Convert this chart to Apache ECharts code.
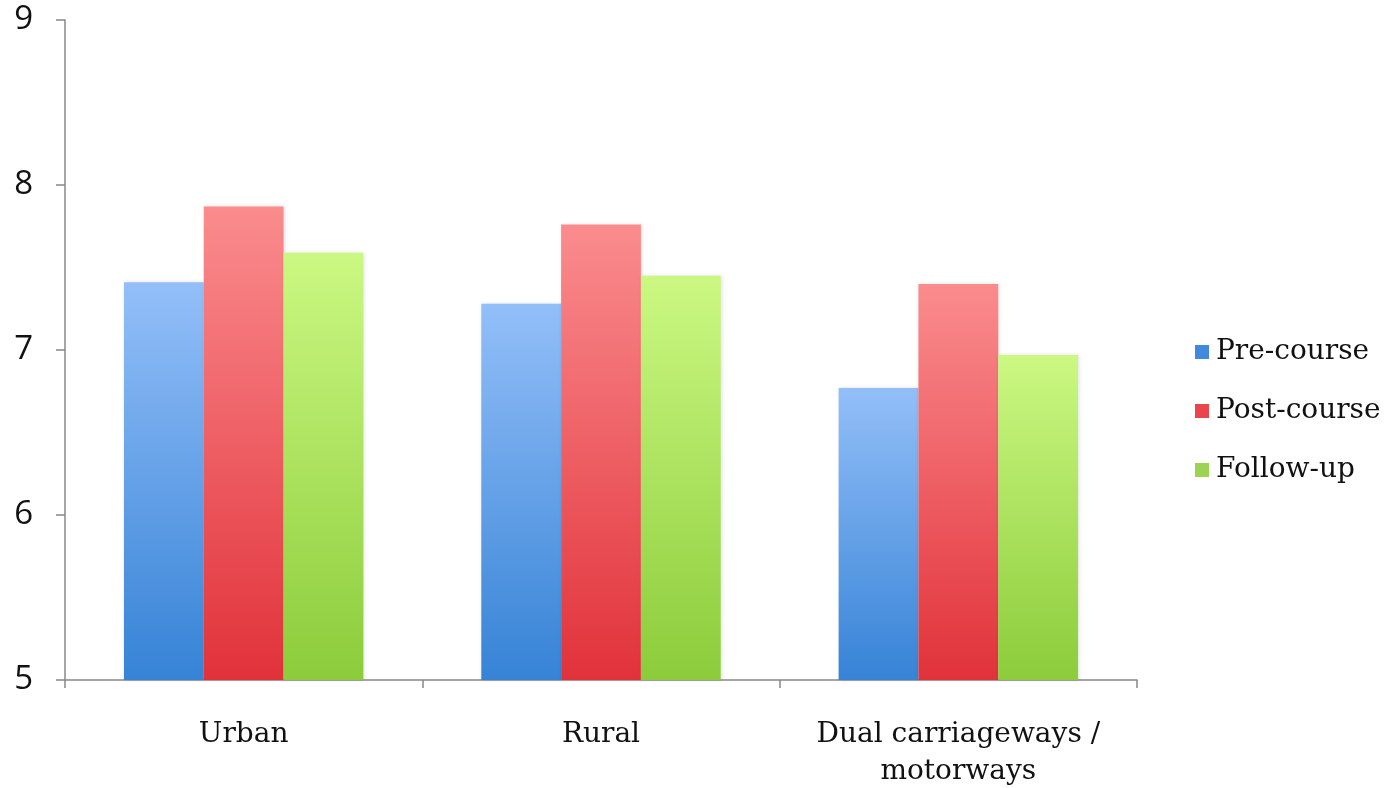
<!DOCTYPE html>
<html>
<head>
<meta charset="utf-8">
<script src="https://cdn.jsdelivr.net/npm/echarts@6/dist/echarts.min.js"></script>
<style>
    html, body { margin: 0; padding: 0; background: #fff; }
    #chart { width: 1391px; height: 788px; }
</style>
</head>
<body>
<div id="chart"></div>
<script>
var categories = ['Urban', 'Rural', 'Dual carriageways /\nmotorways'];
var seriesNames = ['Pre-course', 'Post-course', 'Follow-up'];
var preCourse = [7.41, 7.28, 6.77];
var postCourse = [7.87, 7.76, 7.40];
var followUp = [7.59, 7.45, 6.97];
var yTicks = [5, 6, 7, 8, 9];

var serifFont = '"DejaVu Serif", "Liberation Serif", serif';
var sansFont = '"Open Sans", "Noto Sans", sans-serif';

function grad(top, bottom) {
    return new echarts.graphic.LinearGradient(0, 0, 0, 1, [
        { offset: 0, color: top },
        { offset: 1, color: bottom }
    ]);
}

var palette = [
    { legend: '#4189dd', top: '#93bff8', bottom: '#3683d6' },
    { legend: '#e8464c', top: '#fa8c8e', bottom: '#e1323a' },
    { legend: '#9dd352', top: '#cbf882', bottom: '#8ccc3b' }
];

var values = [preCourse, postCourse, followUp];

var chart = echarts.init(document.getElementById('chart'));

var option = {
    backgroundColor: '#fff',
    animation: false,
    grid: {
        left: 65,
        top: 20,
        right: 254,
        bottom: 108,
        outerBoundsMode: 'none',
        containLabel: false
    },
    legend: {
        orient: 'vertical',
        left: 1190,
        top: 333,
        itemWidth: 14,
        itemHeight: 14,
        itemGap: 31,
        icon: 'rect',
        textStyle: {
            fontFamily: serifFont,
            fontSize: 28,
            color: '#111',
            padding: [0, 0, 0, 2]
        },
        data: seriesNames.map(function (name, i) {
            return { name: name, itemStyle: { color: palette[i].legend } };
        })
    },
    xAxis: {
        type: 'category',
        data: categories,
        axisLine: { lineStyle: { color: '#888', width: 1.5 } },
        axisTick: { show: true, interval: 0, length: 8, lineStyle: { color: '#888', width: 1.5 } },
        axisLabel: {
            interval: 0,
            hideOverlap: false,
            fontFamily: serifFont,
            fontSize: 28,
            color: '#111',
            margin: 36,
            lineHeight: 37
        }
    },
    yAxis: {
        type: 'value',
        min: 5,
        max: 9,
        interval: 1,
        splitLine: { show: false },
        axisLine: { show: true, lineStyle: { color: '#888', width: 1.5 } },
        axisTick: { show: true, length: 9, lineStyle: { color: '#888', width: 1.5 } },
        axisLabel: {
            fontFamily: sansFont,
            fontSize: 33,
            color: '#111',
            margin: 32,
            formatter: function (v) {
                return yTicks.indexOf(v) >= 0 ? String(v) : '';
            }
        }
    },
    series: seriesNames.map(function (name, i) {
        return {
            name: name,
            type: 'bar',
            data: values[i],
            barGap: '0%',
            barCategoryGap: '33%',
            itemStyle: {
                color: grad(palette[i].top, palette[i].bottom),
                shadowColor: 'rgba(0,0,0,0.12)',
                shadowBlur: 4,
                shadowOffsetX: 1
            }
        };
    })
};

chart.setOption(option);
</script>
</body>
</html>
